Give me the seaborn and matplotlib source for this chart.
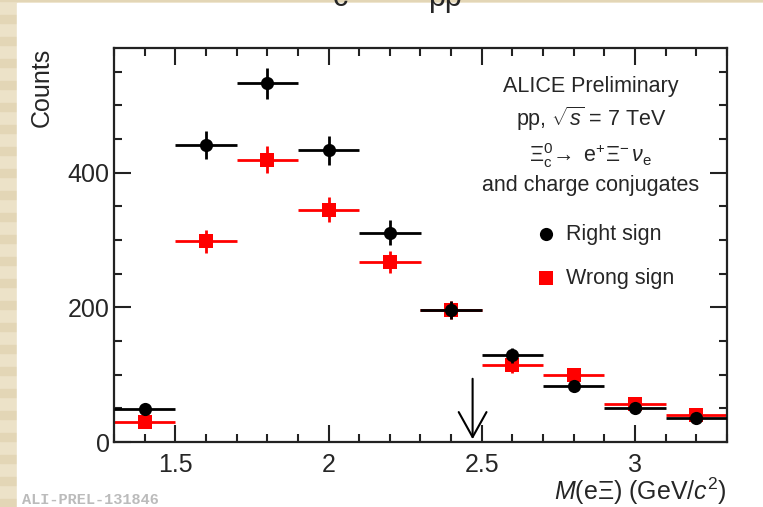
import numpy as np
import pandas as pd
import matplotlib.pyplot as plt
import seaborn as sns
from matplotlib.patches import Rectangle
from matplotlib.ticker import MultipleLocator

# bin centres of M(eXi) in GeV/c^2, bin width 0.2
mass = [1.4, 1.6, 1.8, 2.0, 2.2, 2.4, 2.6, 2.8, 3.0, 3.2]
bin_width = 0.2

right_sign = [49, 441, 533, 433, 311, 196, 129, 83, 51, 35]
right_err = [7, 21, 23, 21, 18, 14, 11, 9, 7, 6]

wrong_sign = [30, 298, 419, 345, 267, 196, 114, 100, 57, 40]
wrong_err = [5.5, 17, 20, 19, 16, 14, 11, 10, 8, 6]

cut_value = 2.47

sns.set_theme(style="ticks")
plt.rcParams["font.family"] = ["Liberation Sans", "DejaVu Sans"]
plt.rcParams["mathtext.fontset"] = "custom"
plt.rcParams["mathtext.rm"] = "Liberation Sans"
plt.rcParams["mathtext.it"] = "Liberation Sans:italic"
plt.rcParams["mathtext.bf"] = "Liberation Sans:bold"

df = pd.DataFrame({"mass": mass * 2,
                   "counts": right_sign + wrong_sign,
                   "err": right_err + wrong_err,
                   "sign": ["Right sign"] * len(mass) + ["Wrong sign"] * len(mass)})

fig = plt.figure(figsize=(7.63, 5.07), dpi=100, facecolor="#ece2c8")
# slide background: beige striped border, white page
for y0 in np.arange(0, 1, 22 / 507):
    fig.patches.append(Rectangle((0, y0), 1, 8 / 507, transform=fig.transFigure,
                                 color="#e3d6b6", zorder=-3))
fig.patches.append(Rectangle((17 / 763, 0), 1, 1 - 3 / 507, transform=fig.transFigure,
                             color="white", zorder=-2))

ax = fig.add_axes([114 / 763, 65 / 507, 613 / 763, 394 / 507])
ax.set_facecolor("white")

styles = {"Wrong sign": dict(color="red", marker="s", s=100, z=2),
          "Right sign": dict(color="black", marker="o", s=90, z=4)}
handles = {}
for name in ["Wrong sign", "Right sign"]:
    sub = df[df["sign"] == name]
    st = styles[name]
    ax.errorbar(sub["mass"], sub["counts"], xerr=bin_width / 2, yerr=sub["err"],
                fmt="none", ecolor=st["color"], elinewidth=2, capsize=0, zorder=st["z"])
    sns.scatterplot(data=sub, x="mass", y="counts", color=st["color"], marker=st["marker"],
                    s=st["s"], linewidth=0, ax=ax, zorder=st["z"] + 1)
    handles[name] = ax.collections[-1]

ax.annotate("", xy=(cut_value, 0), xytext=(cut_value, 98),
            arrowprops=dict(arrowstyle="->,head_length=18,head_width=10",
                            mutation_scale=1, lw=1.5, color="black"), zorder=6)

ax.set_xlim(1.3, 3.3)
ax.set_ylim(0, 585)
ax.xaxis.set_major_locator(MultipleLocator(0.5))
ax.xaxis.set_minor_locator(MultipleLocator(0.1))
ax.yaxis.set_major_locator(MultipleLocator(200))
ax.yaxis.set_minor_locator(MultipleLocator(50))
ax.set_xticks([1.5, 2.0, 2.5, 3.0], ["1.5", "2", "2.5", "3"])
ax.tick_params(which="both", direction="in", top=True, right=True, width=1.5,
               color="#222222", labelsize=18)
ax.tick_params(which="major", length=12)
ax.tick_params(which="minor", length=6)
ax.tick_params(axis="x", pad=8)
ax.tick_params(axis="y", pad=3)
for sp in ax.spines.values():
    sp.set_linewidth(1.6)
    sp.set_color("#222222")

ax.set_xlabel("$M$(e$\\Xi$) (GeV/$c^{2}$)", loc="right", fontsize=18, labelpad=-1)
ax.set_ylabel("Counts", loc="top", fontsize=18)
ax.yaxis.set_label_coords(-0.099, 1.0)

tx = 0.778
fs = 15.5
ax.text(tx, 0.903, "ALICE Preliminary", transform=ax.transAxes, ha="center", va="center", fontsize=fs)
ax.text(tx, 0.820, "pp, $\\sqrt{s}$ = 7 TeV", transform=ax.transAxes, ha="center", va="center", fontsize=fs)
ax.text(tx, 0.728, "$\\Xi_{\\rm c}^{0}\\!\\rightarrow$ e$^{+}\\Xi^{-}\\,\\nu_{\\rm e}$",
        transform=ax.transAxes, ha="center", va="center", fontsize=fs)
ax.text(tx, 0.652, "and charge conjugates", transform=ax.transAxes, ha="center", va="center", fontsize=fs)

ax.legend([handles["Right sign"], handles["Wrong sign"]], ["Right sign", "Wrong sign"],
          loc="upper left", bbox_to_anchor=((535 - 114) / 613, (442 - 224) / 394),
          frameon=False, fontsize=fs, borderpad=0, handlelength=1.0, handletextpad=0.45,
          labelspacing=1.05, borderaxespad=0)

# cut-off slide title and preliminary tag
fig.text(333 / 763, 1 - 6 / 507, "c", fontsize=22, ha="left", va="baseline")
fig.text(428 / 763, 1 - 6 / 507, "pp", fontsize=22, ha="left", va="baseline")
fig.text(22 / 763, 7 / 507, "ALI-PREL-131846", family="Liberation Mono", weight="bold",
         fontsize=11, color="#bbbbbb", ha="left", va="center")

fig.savefig("out.png", dpi=100, facecolor=fig.get_facecolor())
